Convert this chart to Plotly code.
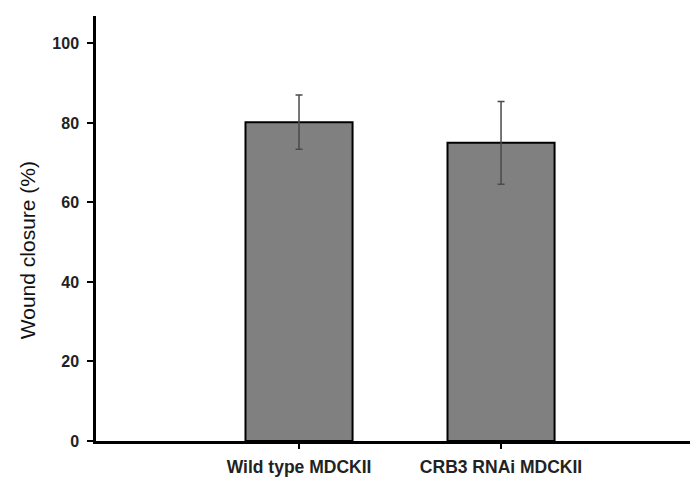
import plotly.graph_objects as go

categories = ["Wild type MDCKII", "CRB3 RNAi MDCKII"]
values = [80.2, 75.0]
errors = [6.8, 10.4]
y_ticks = [0, 20, 40, 60, 80, 100]

FONT = "Liberation Sans, Arial, sans-serif"

fig = go.Figure()
fig.add_trace(go.Bar(
    x=categories, y=values,
    width=0.53,
    marker=dict(color="#808080", line=dict(color="black", width=2)),
    error_y=dict(type="data", array=errors, visible=True,
                 color="#4a4a4a", thickness=1.5, width=3.5),
))

# page body has an 8px margin, so the figure is sized/offset to compensate
fig.update_layout(
    width=690, height=470,
    margin=dict(l=88, r=0, t=8, b=37, pad=0),
    paper_bgcolor="white", plot_bgcolor="white",
    showlegend=False,
    font=dict(family=FONT, color="#222"),
    xaxis=dict(
        range=[-1.005, 1.975],
        showline=True, linecolor="black", linewidth=2.5,
        ticks="outside", ticklen=5, tickwidth=1.5, tickcolor="black",
        tickfont=dict(size=17.5, family=FONT, color="#222", weight="bold"),
        ticklabelstandoff=3,
        showgrid=False, zeroline=False,
    ),
    yaxis=dict(
        range=[0, 106.9],
        tickvals=y_ticks,
        showline=True, linecolor="black", linewidth=2.5,
        ticks="outside", ticklen=6, tickwidth=2, tickcolor="black",
        tickfont=dict(size=16, family=FONT, color="#222", weight="bold"),
        ticklabelstandoff=5,
        showgrid=False, zeroline=False,
    ),
    annotations=[dict(
        text="Wound closure (%)", xref="paper", yref="paper",
        x=-0.1146, y=0.449, xanchor="center", yanchor="middle",
        textangle=-90, showarrow=False,
        font=dict(size=21, family=FONT, color="#111"),
    )],
)

fig.write_html("out.html")
